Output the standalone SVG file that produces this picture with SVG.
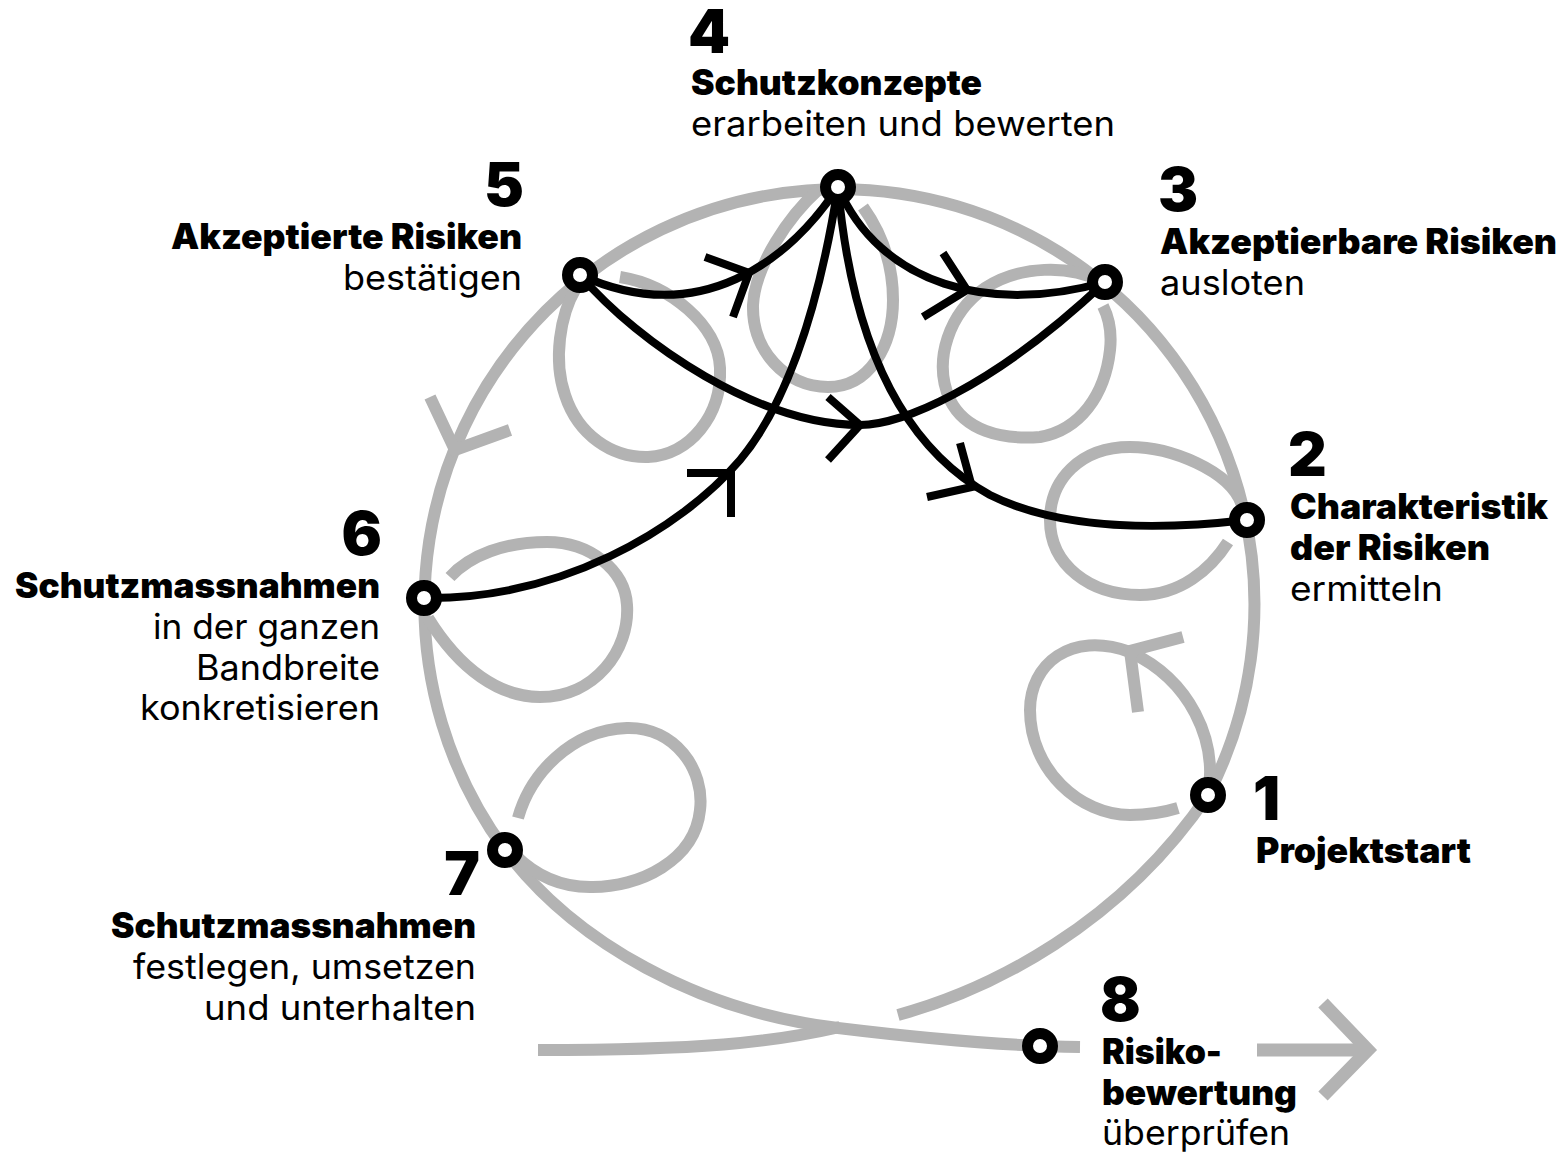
<svg xmlns="http://www.w3.org/2000/svg" width="1565" height="1152" viewBox="0 0 1565 1152">
<defs>
<style>
.track{fill:none;stroke:#b3b3b3;stroke-width:12;stroke-linecap:butt;stroke-linejoin:miter}
.link{fill:none;stroke:#000;stroke-width:8;stroke-linecap:butt;stroke-linejoin:miter}
.ring{fill:#fff;stroke:#000;stroke-width:11}
text{font-family:Inter,"Liberation Sans",sans-serif;fill:#000}
.num{font-size:60px;font-weight:900}
.hd{font-size:35px;font-weight:900}
.bd{font-size:35px;font-weight:400}
</style>
</defs>
<rect width="1565" height="1152" fill="#fff"/>
<g id="track">
<path class="track" d="M538,1050 C700,1050 770,1043 840,1027"/>
<path class="track" d="M898,1015 C990,990 1120,925 1208,795"/>
<path class="track" d="M1208,795 A415,415 0 1 0 505,850"/>
<path class="track" d="M505,850 C575,943 700,1012 838,1028 C920,1038 1000,1046 1080,1047"/>
<path class="track" d="M1208,795 C1218,740 1190,680 1130,652 C1070,630 1030,665 1030,710 C1030,770 1080,815 1130,815 C1150,815 1165,812 1178,808"/>
<path class="track" d="M1242,505 C1230,470 1170,447 1130,447 C1080,447 1050,480 1050,520 C1050,565 1090,595 1140,595 C1180,595 1210,570 1228,542"/>
<path class="track" d="M1100,281 C1070,265 1020,265 985,288 C950,312 932,360 950,400 C965,430 1000,440 1040,437 C1080,430 1105,395 1110,350 C1112,332 1109,318 1103,306"/>
<path class="track" d="M818,190 C790,215 755,265 753,305 C752,350 785,387 828,387 C870,387 893,345 893,300 C893,260 878,228 863,207"/>
<path class="track" d="M576,288 C560,315 553,360 565,395 C578,435 612,458 648,457 C690,455 722,415 720,368 C718,325 670,285 620,277"/>
<path class="track" d="M450,577 C470,555 505,542 547,542 C590,542 625,570 627,605 C630,650 595,697 540,697 C500,697 460,670 428,618"/>
<path class="track" d="M518,818 C530,775 570,730 627,728 C675,727 705,770 700,810 C695,860 640,888 590,887 C560,887 535,875 515,855"/>
<path class="track" d="M430,397 L455,450 L510,430"/>
<path class="track" d="M1183,637 L1130,651 L1138,712"/>
<path class="track" d="M1257,1050 L1366,1050" style="stroke-width:13"/>
<path class="track" d="M1323,1003 L1368,1050 L1323,1096" style="stroke-width:13"/>
</g>
<g id="connectors">
<path class="link" d="M580,275 C700,330 790,260 838,187"/>
<path class="link" d="M705,257 L749,273 L733,317"/>
<path class="link" d="M838,187 C880,285 990,315 1105,282"/>
<path class="link" d="M943,253 L967,290 L923,317"/>
<path class="link" d="M580,275 C640,345 760,425 860,425 C900,425 990,390 1105,282"/>
<path class="link" d="M828,397 L860,425 L828,460"/>
<path class="link" d="M424,598 C560,600 680,530 740,460 C790,400 820,300 838,187"/>
<path class="link" d="M687,473 L731,473 L731,517"/>
<path class="link" d="M838,187 C850,320 890,440 990,495 C1060,530 1160,530 1247,520"/>
<path class="link" d="M960,443 L972,487 L927,497"/>
</g>
<g id="node-1">
<circle class="ring" cx="1208" cy="795" r="12.5"/>
<text class="num" x="1253" y="820">1</text>
<text class="hd" x="1256" y="863" textLength="215" lengthAdjust="spacingAndGlyphs">Projektstart</text>
</g>
<g id="node-2">
<circle class="ring" cx="1247" cy="520" r="12.5"/>
<text class="num" x="1288" y="476">2</text>
<text class="hd" x="1290" y="519" textLength="258" lengthAdjust="spacingAndGlyphs">Charakteristik</text>
<text class="hd" x="1290" y="560" textLength="200" lengthAdjust="spacingAndGlyphs">der Risiken</text>
<text class="bd" x="1290" y="601" textLength="153" lengthAdjust="spacingAndGlyphs">ermitteln</text>
</g>
<g id="node-3">
<circle class="ring" cx="1105" cy="282" r="12.5"/>
<text class="num" x="1158" y="211">3</text>
<text class="hd" x="1160" y="254" textLength="397" lengthAdjust="spacingAndGlyphs">Akzeptierbare Risiken</text>
<text class="bd" x="1160" y="295" textLength="145" lengthAdjust="spacingAndGlyphs">ausloten</text>
</g>
<g id="node-4">
<circle class="ring" cx="838" cy="187" r="12.5"/>
<text class="num" x="688" y="53">4</text>
<text class="hd" x="691" y="95" textLength="291" lengthAdjust="spacingAndGlyphs">Schutzkonzepte</text>
<text class="bd" x="691" y="136" textLength="424" lengthAdjust="spacingAndGlyphs">erarbeiten und bewerten</text>
</g>
<g id="node-5">
<circle class="ring" cx="580" cy="275" r="12.5"/>
<text class="num" x="524" y="206" text-anchor="end">5</text>
<text class="hd" x="522" y="249" text-anchor="end" textLength="351" lengthAdjust="spacingAndGlyphs">Akzeptierte Risiken</text>
<text class="bd" x="522" y="290" text-anchor="end" textLength="179" lengthAdjust="spacingAndGlyphs">bestätigen</text>
</g>
<g id="node-6">
<circle class="ring" cx="424" cy="598" r="12.5"/>
<text class="num" x="382" y="555" text-anchor="end">6</text>
<text class="hd" x="380" y="598" text-anchor="end" textLength="365" lengthAdjust="spacingAndGlyphs">Schutzmassnahmen</text>
<text class="bd" x="380" y="639" text-anchor="end" textLength="227" lengthAdjust="spacingAndGlyphs">in der ganzen</text>
<text class="bd" x="380" y="680" text-anchor="end" textLength="184" lengthAdjust="spacingAndGlyphs">Bandbreite</text>
<text class="bd" x="380" y="720" text-anchor="end" textLength="240" lengthAdjust="spacingAndGlyphs">konkretisieren</text>
</g>
<g id="node-7">
<circle class="ring" cx="505" cy="850" r="12.5"/>
<text class="num" x="480" y="895" text-anchor="end">7</text>
<text class="hd" x="476" y="938" text-anchor="end" textLength="365" lengthAdjust="spacingAndGlyphs">Schutzmassnahmen</text>
<text class="bd" x="476" y="979" text-anchor="end" textLength="343" lengthAdjust="spacingAndGlyphs">festlegen, umsetzen</text>
<text class="bd" x="476" y="1020" text-anchor="end" textLength="272" lengthAdjust="spacingAndGlyphs">und unterhalten</text>
</g>
<g id="node-8">
<circle class="ring" cx="1040" cy="1046" r="12.5"/>
<text class="num" x="1100" y="1021">8</text>
<text class="hd" x="1102" y="1064" textLength="120" lengthAdjust="spacingAndGlyphs">Risiko-</text>
<text class="hd" x="1102" y="1105" textLength="195" lengthAdjust="spacingAndGlyphs">bewertung</text>
<text class="bd" x="1102" y="1145" textLength="188" lengthAdjust="spacingAndGlyphs">überprüfen</text>
</g>
</svg>
